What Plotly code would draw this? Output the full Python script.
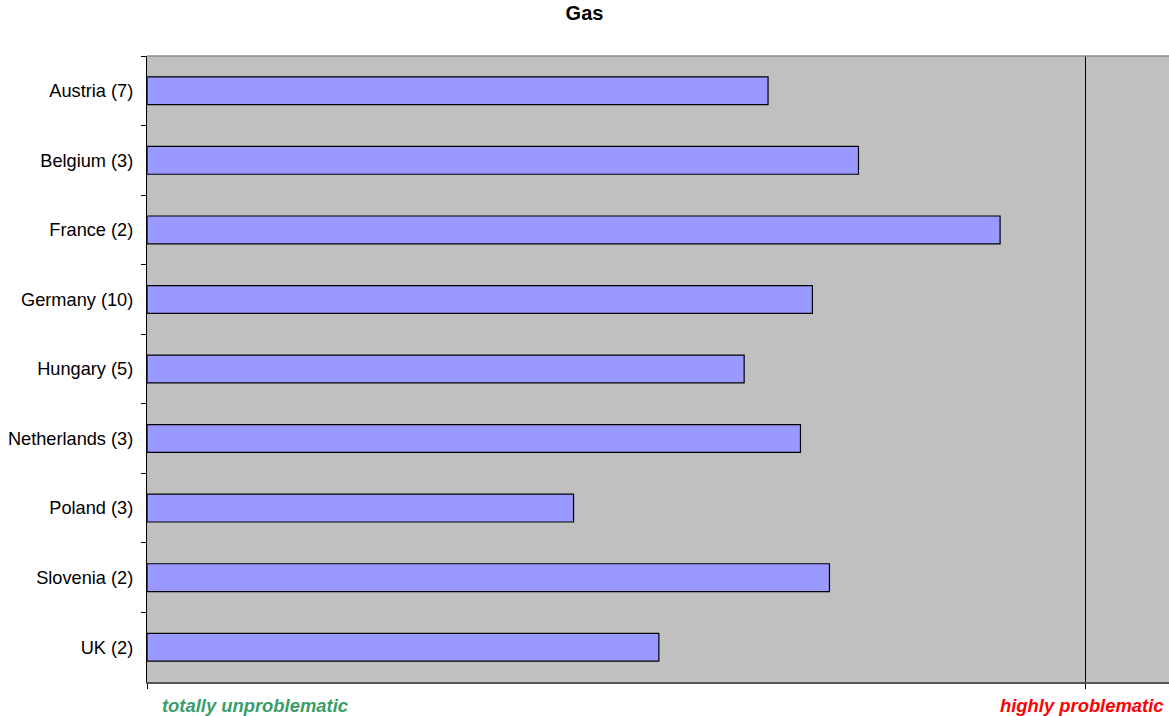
import plotly.graph_objects as go

# Mean rating per country (number of responses in brackets)
countries = ["Austria (7)", "Belgium (3)", "France (2)", "Germany (10)", "Hungary (5)",
             "Netherlands (3)", "Poland (3)", "Slovenia (2)", "UK (2)"]
scores = [3.64, 4.17, 5.0, 3.9, 3.5, 3.83, 2.5, 4.0, 3.0]

scale_max = 5.5
axis_max = 5.99
axis_ticks = [0, scale_max]
low_label = "totally unproblematic"
high_label = "highly problematic"

fig = go.Figure(
    go.Bar(
        x=scores,
        y=countries,
        orientation="h",
        width=0.4,
        marker=dict(color="#9999ff", line=dict(color="#000000", width=1.2)),
        hoverinfo="x+y",
    )
)

fig.update_layout(
    width=1169,
    height=716,
    margin=dict(l=147, r=0, t=56, b=34),
    paper_bgcolor="white",
    plot_bgcolor="#c0c0c0",
    showlegend=False,
    font=dict(family="Liberation Sans, Arial, sans-serif", color="#000000"),
    title=dict(
        text="<b>Gas</b>",
        x=0.5,
        xanchor="center",
        y=0.982,
        yanchor="middle",
        font=dict(size=20, color="#000000"),
    ),
    xaxis=dict(
        range=[0, axis_max],
        tickvals=axis_ticks,
        showticklabels=False,
        ticks="outside",
        ticklen=5,
        tickcolor="#000000",
        showgrid=True,
        gridcolor="#000000",
        gridwidth=1,
        showline=True,
        linecolor="#555555",
        linewidth=1.5,
        zeroline=False,
        fixedrange=True,
    ),
    yaxis=dict(
        categoryorder="array",
        categoryarray=countries,
        autorange="reversed",
        ticks="outside",
        tickson="boundaries",
        ticklen=5,
        tickcolor="#000000",
        ticklabelstandoff=9,
        tickfont=dict(size=18.2, color="#000000"),
        showline=True,
        linecolor="#000000",
        linewidth=1.2,
        showgrid=False,
        fixedrange=True,
    ),
    shapes=[
        dict(type="line", xref="paper", yref="paper", x0=0, x1=1, y0=1, y1=1,
             line=dict(color="#8c8c8c", width=1.5)),
    ],
    annotations=[
        dict(text=f"<b><i>{low_label}</i></b>", xref="paper", yref="paper",
             x=0.013, y=-0.037, xanchor="left", yanchor="middle", showarrow=False,
             font=dict(size=18.4, color="#3a9d6a")),
        dict(text=f"<b><i>{high_label}</i></b>", xref="x", yref="paper",
             x=axis_max - 0.02, y=-0.037, xanchor="right", yanchor="middle", showarrow=False,
             font=dict(size=18.4, color="#ff0000")),
    ],
)

fig.write_html("out.html")
